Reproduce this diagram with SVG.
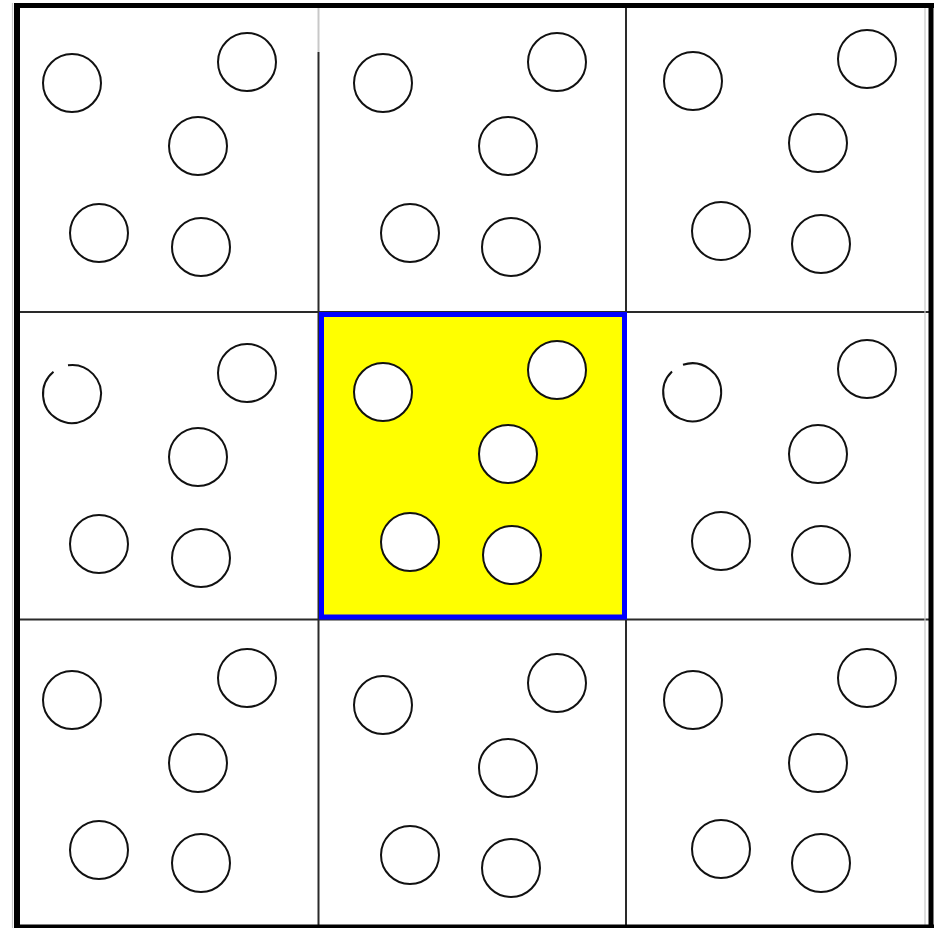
<svg xmlns="http://www.w3.org/2000/svg" width="938" height="928" viewBox="0 0 938 928">
<style>
.grid{stroke:#2a2a2a;stroke-width:2;fill:none}
.faint{stroke:#c8c8c8;stroke-width:2;fill:none}
.border{stroke:#000;fill:none}
.dot{fill:none;stroke:#111;stroke-width:2}
.dotw{fill:#fff;stroke:#111;stroke-width:2}
</style>
<rect width="938" height="928" fill="#fff"/>
<g id="connectors">
<line class="faint" x1="318.5" y1="8" x2="318.5" y2="52"/>
<line class="grid" x1="318.5" y1="52" x2="318.5" y2="925"/>
<line class="grid" x1="626" y1="8" x2="626" y2="925"/>
<line class="grid" x1="18" y1="312" x2="929" y2="312"/>
<line class="grid" x1="18" y1="619.5" x2="929" y2="619.5"/>
<line class="faint" x1="12.5" y1="3" x2="12.5" y2="928" style="stroke-width:1.2"/>
<line class="faint" x1="925" y1="3" x2="925" y2="928" style="stroke-width:1.2"/>
</g>
<g id="frame">
<line class="border" x1="17" y1="3" x2="17" y2="928" stroke-width="6"/>
<line class="border" x1="931" y1="3" x2="931" y2="928" stroke-width="5"/>
<line class="border" x1="14" y1="5.5" x2="934" y2="5.5" stroke-width="5"/>
<line class="border" x1="14" y1="926.5" x2="934" y2="926.5" stroke-width="4"/>
</g>
<g id="cell-1">
<circle class="dot" cx="72" cy="83" r="29"/>
<circle class="dot" cx="247" cy="62" r="29"/>
<circle class="dot" cx="198" cy="146" r="29"/>
<circle class="dot" cx="99" cy="233" r="29"/>
<circle class="dot" cx="201" cy="247" r="29"/>
</g>
<g id="cell-2">
<circle class="dot" cx="383" cy="83" r="29"/>
<circle class="dot" cx="557" cy="62" r="29"/>
<circle class="dot" cx="508" cy="146" r="29"/>
<circle class="dot" cx="410" cy="233" r="29"/>
<circle class="dot" cx="511" cy="247" r="29"/>
</g>
<g id="cell-3">
<circle class="dot" cx="693" cy="81" r="29"/>
<circle class="dot" cx="867" cy="59" r="29"/>
<circle class="dot" cx="818" cy="143" r="29"/>
<circle class="dot" cx="721" cy="231" r="29"/>
<circle class="dot" cx="821" cy="244" r="29"/>
</g>
<g id="cell-4">
<path class="dot" d="M 68 365.3 A 29 29 0 1 1 53.5 371.7"/>
<circle class="dot" cx="247" cy="373" r="29"/>
<circle class="dot" cx="198" cy="457" r="29"/>
<circle class="dot" cx="99" cy="544" r="29"/>
<circle class="dot" cx="201" cy="558" r="29"/>
</g>
<g id="cell-5">
<rect x="321.5" y="314.5" width="303" height="302.5" fill="#ffff00" stroke="#0000ff" stroke-width="5"/>
<circle class="dotw" cx="383" cy="392" r="29"/>
<circle class="dotw" cx="557" cy="370" r="29"/>
<circle class="dotw" cx="508" cy="454" r="29"/>
<circle class="dotw" cx="410" cy="542" r="29"/>
<circle class="dotw" cx="512" cy="555" r="29"/>
</g>
<g id="cell-6">
<path class="dot" d="M 683 364.8 A 29 29 0 1 1 672 371.5"/>
<circle class="dot" cx="867" cy="369" r="29"/>
<circle class="dot" cx="818" cy="454" r="29"/>
<circle class="dot" cx="721" cy="541" r="29"/>
<circle class="dot" cx="821" cy="555" r="29"/>
</g>
<g id="cell-7">
<circle class="dot" cx="72" cy="700" r="29"/>
<circle class="dot" cx="247" cy="678" r="29"/>
<circle class="dot" cx="198" cy="763" r="29"/>
<circle class="dot" cx="99" cy="850" r="29"/>
<circle class="dot" cx="201" cy="863" r="29"/>
</g>
<g id="cell-8">
<circle class="dot" cx="383" cy="705" r="29"/>
<circle class="dot" cx="557" cy="683" r="29"/>
<circle class="dot" cx="508" cy="768" r="29"/>
<circle class="dot" cx="410" cy="855" r="29"/>
<circle class="dot" cx="511" cy="868" r="29"/>
</g>
<g id="cell-9">
<circle class="dot" cx="693" cy="700" r="29"/>
<circle class="dot" cx="867" cy="678" r="29"/>
<circle class="dot" cx="818" cy="763" r="29"/>
<circle class="dot" cx="721" cy="849" r="29"/>
<circle class="dot" cx="821" cy="863" r="29"/>
</g>
</svg>
